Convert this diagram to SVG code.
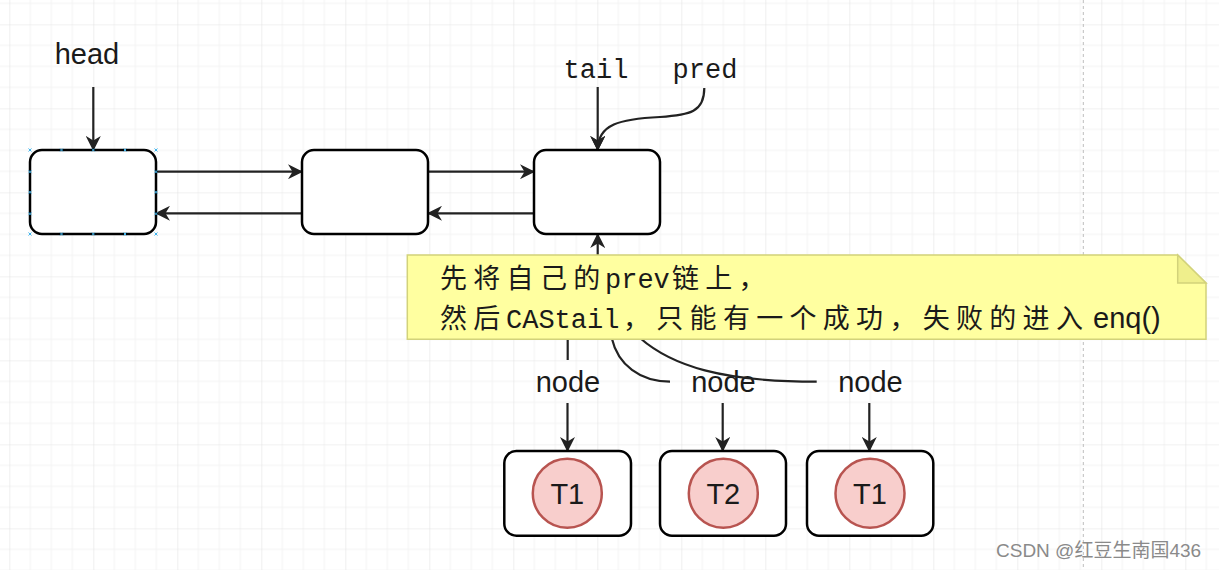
<svg xmlns="http://www.w3.org/2000/svg" width="1219" height="570" viewBox="0 0 1219 570">
<style>
.box{fill:#fff;stroke:#000;stroke-width:2.5}
.ln{fill:none;stroke:#222;stroke-width:2.2}
.arr{fill:none;stroke:#222;stroke-width:2.2;marker-end:url(#ah)}
.sans{font-family:"Liberation Sans",Arial,sans-serif;font-size:29px;fill:#1a1a1a}
.mono{font-family:"Liberation Mono","DejaVu Sans Mono",monospace;font-size:27px;fill:#1a1a1a}
.cjk{font-family:"Noto Sans CJK SC",sans-serif;font-size:27px;fill:#1a1a1a}
.circ{fill:#f8cecc;stroke:#b85450;stroke-width:2.5}
.sel{stroke:#3fb4ec;stroke-width:1;fill:none}
</style>
<defs>
<pattern id="grid" patternUnits="userSpaceOnUse" x="9.33" y="24.33" width="84" height="84">
<path d="M21 0V84M42 0V84M63 0V84M0 21H84M0 42H84M0 63H84" stroke="#f3f3f3" stroke-width="1"/>
<path d="M0 0V84M0 0H84" stroke="#e4e4e4" stroke-width="1.2"/>
</pattern>
<marker id="ah" markerUnits="userSpaceOnUse" viewBox="0 0 15 15" markerWidth="15" markerHeight="15" refX="14" refY="7.5" orient="auto">
<path d="M0,0 L15,7.5 L0,15 L4.5,7.5 Z" fill="#222"/>
</marker>
</defs>
<rect width="1219" height="570" fill="#fff"/>
<rect width="1219" height="570" fill="url(#grid)"/>
<line x1="1083.3" y1="0" x2="1083.3" y2="570" stroke="#bdbdbd" stroke-width="1" stroke-dasharray="3,3"/>

<g id="labels">
<text class="sans" x="87" y="64" text-anchor="middle">head</text>
<text class="mono" x="596" y="78" text-anchor="middle">tail</text>
<text class="mono" x="705" y="78" text-anchor="middle">pred</text>
<text class="sans" x="568" y="392" text-anchor="middle">node</text>
<text class="sans" x="723.5" y="392" text-anchor="middle">node</text>
<text class="sans" x="870.5" y="392" text-anchor="middle">node</text>
</g>

<g id="connectors">
<line class="arr" x1="93.3" y1="87" x2="93.3" y2="150"/>
<line class="arr" x1="597.7" y1="87" x2="597.7" y2="150"/>
<path class="arr" d="M704.3,88 C704.3,112 690,115 660,117 C620,119 597.7,124 597.7,150"/>
<line class="arr" x1="156" y1="171.7" x2="302" y2="171.7"/>
<line class="arr" x1="302" y1="213.3" x2="156" y2="213.3"/>
<line class="arr" x1="428" y1="171.7" x2="534" y2="171.7"/>
<line class="arr" x1="534" y1="213.3" x2="428" y2="213.3"/>
<line class="arr" x1="597.7" y1="257" x2="597.7" y2="234"/>
<line class="ln" x1="567.7" y1="338" x2="567.7" y2="360"/>
<path class="ln" d="M611.7,338 C618,365 640,381.7 670,381.7"/>
<path class="ln" d="M640,338 C672,366 722,381.7 816.7,381.7"/>
<line class="arr" x1="567.5" y1="403" x2="567.5" y2="451"/>
<line class="arr" x1="722.7" y1="403" x2="722.7" y2="451"/>
<line class="arr" x1="869.3" y1="403" x2="869.3" y2="451"/>
</g>

<g id="node1">
<rect class="box" x="30" y="150" width="126" height="84" rx="12"/>
<path class="sel" d="M28.5,148.5l3,3m0,-3l-3,3 M60,148.5l3,3m0,-3l-3,3 M91.8,148.5l3,3m0,-3l-3,3 M123.5,148.5l3,3m0,-3l-3,3 M154.5,148.5l3,3m0,-3l-3,3 M28.5,232.5l3,3m0,-3l-3,3 M60,232.5l3,3m0,-3l-3,3 M91.8,232.5l3,3m0,-3l-3,3 M123.5,232.5l3,3m0,-3l-3,3 M154.5,232.5l3,3m0,-3l-3,3 M28.5,170.2l3,3m0,-3l-3,3 M28.5,190.8l3,3m0,-3l-3,3 M28.5,212.2l3,3m0,-3l-3,3 M154.5,170.2l3,3m0,-3l-3,3 M154.5,190.8l3,3m0,-3l-3,3 M154.5,212.2l3,3m0,-3l-3,3"/>
</g>
<g id="node2"><rect class="box" x="302" y="150" width="126" height="84" rx="12"/></g>
<g id="node3"><rect class="box" x="534" y="150" width="126" height="84" rx="12"/></g>

<g id="note">
<path d="M407.3,255 H1177.7 L1206,283 V339.3 H407.3 Z" fill="#ffffa0" stroke="#d2d27a" stroke-width="1.5"/>
<path d="M1177.7,255 V283 H1206 Z" fill="#efef8c" stroke="#d2d27a" stroke-width="1.5"/>
<text y="288"><tspan class="cjk" x="440" letter-spacing="6.3">先将自己的</tspan><tspan class="mono" x="605">prev</tspan><tspan class="cjk" x="672" letter-spacing="6.3">链上，</tspan></text>
<text y="328"><tspan class="cjk" x="440" letter-spacing="6.3">然后</tspan><tspan class="mono" x="506">CAStail</tspan><tspan class="cjk" x="623" letter-spacing="6.3">，只能有一个成功，失败的进入</tspan><tspan class="sans" x="1093">enq()</tspan></text>
</g>

<g id="t1"><rect class="box" x="504.3" y="451" width="126.7" height="84.7" rx="12"/><circle class="circ" cx="567.3" cy="493.3" r="34.5"/><text class="sans" x="567.3" y="503.5" text-anchor="middle">T1</text></g>
<g id="t2"><rect class="box" x="660" y="451" width="126" height="84.7" rx="12"/><circle class="circ" cx="723.3" cy="493.3" r="34.5"/><text class="sans" x="723.3" y="503.5" text-anchor="middle">T2</text></g>
<g id="t3"><rect class="box" x="807" y="451" width="126.3" height="84.7" rx="12"/><circle class="circ" cx="870" cy="493.3" r="34.5"/><text class="sans" x="870" y="503.5" text-anchor="middle">T1</text></g>

<text x="996" y="557" font-family="Liberation Sans,'Noto Sans CJK SC',sans-serif" font-size="19" fill="#8a8a8a">CSDN @红豆生南国436</text>
</svg>
